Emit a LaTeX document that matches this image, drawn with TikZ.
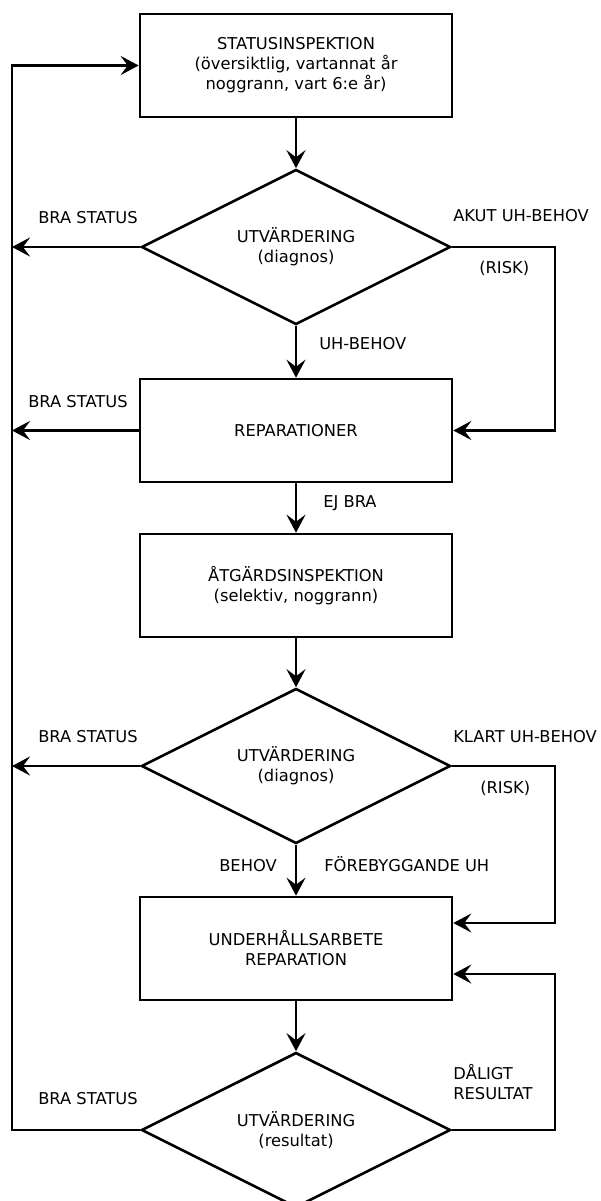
\documentclass[tikz,border=0pt]{standalone}
\usepackage{fontspec}
\setmainfont{DejaVu Sans}
\usetikzlibrary{shapes.geometric,arrows.meta}
\begin{document}
\begin{tikzpicture}[x=1pt, y=-1pt, line width=2.6pt,
	every node/.style={font=\fontsize{16.3}{20}\selectfont, inner sep=0pt},
	box/.style={draw, rectangle, minimum width=312pt, minimum height=103pt, align=center},
	choice/.style={draw, diamond, aspect=3, minimum width=309pt, minimum height=155pt, align=center},
	lbl/.style={anchor=base west, align=left},
	>={Stealth[length=18pt,width=19pt,inset=7pt]}]
		\useasboundingbox (0,0) rectangle (600,1201);
		\coordinate (bus) at (12,0);
		\coordinate (ret) at (555,0);
		% main column
		\node[box] (insp) at (296,65.5) {STATUSINSPEKTION\\(översiktlig, vartannat år\\noggrann, vart 6:e år)};
		\node[choice] (eval1) at (296,247) {UTVÄRDERING\\(diagnos)};
		\node[box] (rep) at (296,430.5) {REPARATIONER};
		\node[box] (atg) at (296,585.5) {ÅTGÄRDSINSPEKTION\\(selektiv, noggrann)};
		\node[choice] (eval2) at (296,766) {UTVÄRDERING\\(diagnos)};
		\node[box] (uh) at (296,948.5) {UNDERHÅLLSARBETE\\REPARATION};
		\node[choice] (eval3) at (296,1130) {UTVÄRDERING\\(resultat)};
		% labels
		\node[lbl] (bra1) at (37,223) {BRA STATUS};
		\node[lbl] (akut) at (452,222) {AKUT UH-BEHOV};
		\node[lbl] (risk1) at (478,273) {(RISK)};
		\node[lbl] (uhbehov) at (318,349) {UH-BEHOV};
		\node[lbl] (bra2) at (27,407) {BRA STATUS};
		\node[lbl] (ejbra) at (322,507) {EJ BRA};
		\node[lbl] (bra3) at (37,742) {BRA STATUS};
		\node[lbl] (klart) at (452,742) {KLART UH-BEHOV};
		\node[lbl] (risk2) at (479,793) {(RISK)};
		\node[lbl] (behov) at (218,871) {BEHOV};
		\node[lbl] (forebyg) at (323,871) {FÖREBYGGANDE UH};
		\node[lbl] (daligt) at (452,1099) {DÅLIGT\\RESULTAT};
		\node[lbl] (bra4) at (37,1104) {BRA STATUS};
		% arrows
		\draw[->] (insp) -- (eval1);
		\draw[->] (eval1.west) -- (eval1.west -| bus);
		\draw[->] (eval1.east) -- (eval1.east -| ret) |- (rep.east);
		\draw[->] (eval1) -- (rep);
		\draw[->] (rep.west) -- (rep.west -| bus);
		\draw[->] (rep) -- (atg);
		\draw[->] (atg) -- (eval2);
		\draw[->] (eval2.west) -- (eval2.west -| bus);
		\draw[->] (eval2.east) -- (eval2.east -| ret) |- ([yshift=25.5pt]uh.east);
		\draw[->] (eval2) -- (uh);
		\draw[->] (uh) -- (eval3);
		\draw[->] (eval3.east) -- (eval3.east -| ret) |- ([yshift=-25.5pt]uh.east);
		\draw[->] (eval3.west) -- (eval3.west -| bus) |- (insp.west);
\end{tikzpicture}
\end{document}
